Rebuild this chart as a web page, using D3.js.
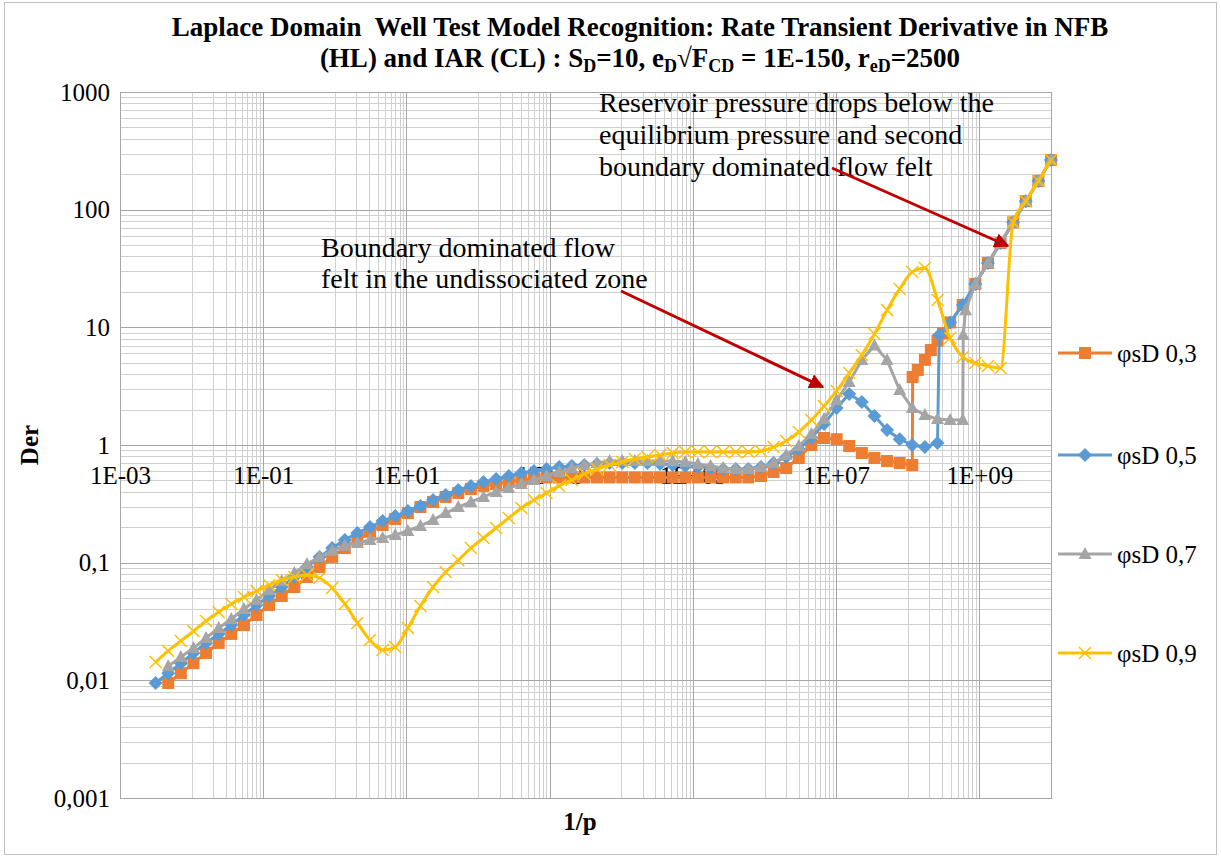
<!DOCTYPE html>
<html><head><meta charset="utf-8">
<script src="https://cdn.jsdelivr.net/npm/d3@7"></script>
<style>
body{margin:0;background:#fff;}
svg{display:block;font-family:"Liberation Serif","Times New Roman",serif;}
</style></head><body>
<svg id="chart" width="1221" height="858"></svg>
<script>
// 1/p sample grid (Laplace variable inverse)
const invP = [0.003144,0.004716,0.007074,0.01061,0.01592,0.02388,0.03581,0.05372,0.08058,0.1209,
  0.1813,0.2720,0.4079,0.6119,0.9179,1.377,2.065,3.098,4.647,6.970,
  10.46,15.68,23.52,35.29,52.93,79.39,119.1,178.6,268.0,401.9,
  602.9,904.3,1356,2035,3052,4578,6867,10300,15450,23180,
  34760,52150,78220,117300,176000,264000,396000,594000,891000,1.337e6,
  2.005e6,3.008e6,4.511e6,6.767e6,1.015e7,1.523e7,2.284e7,3.426e7,5.139e7,7.708e7,
  1.156e8,1.734e8,2.602e8,3.902e8,5.853e8,8.780e8,1.317e9,1.975e9,2.963e9,4.444e9,
  6.667e9,1e10];

// Rate transient derivative per storativity ratio, aligned with invP
const der03 = [null,0.0095,0.0115,0.0140,0.0171,0.0208,0.0248,0.0295,0.0359,0.0437,
  0.0521,0.0621,0.0755,0.0918,0.112,0.133,0.156,0.183,0.209,0.235,
  0.264,0.297,0.328,0.362,0.391,0.423,0.449,0.466,0.485,0.505,
  0.514,0.53,0.53,0.53,0.53,0.53,0.53,0.53,0.53,0.53,
  0.53,0.53,0.53,0.53,0.53,0.53,0.53,0.53,0.545,0.590,
  0.637,0.775,1.0,1.147,1.12,0.98,0.855,0.775,0.731,0.703,
  0.676,5.3,7.7,11.0,15.5,23.4,35.2,52,78,118,
  175,264];
const der05 = [0.0095,0.0115,0.0140,0.0171,0.0208,0.0248,0.0295,0.0359,0.0437,0.0521,
  0.0621,0.0755,0.0918,0.112,0.133,0.156,0.179,0.201,0.226,0.249,
  0.275,0.303,0.341,0.376,0.415,0.449,0.485,0.514,0.545,0.578,
  0.601,0.625,0.650,0.664,0.676,0.690,0.703,0.703,0.703,0.703,
  0.690,0.676,0.664,0.650,0.637,0.625,0.625,0.625,0.650,0.703,
  0.790,0.925,1.15,1.51,2.06,2.71,2.32,1.76,1.34,1.12,
  1.00,0.96,1.04,11.0,15.5,23.4,35.2,52,78,118,
  175,264];
const der07 = [null,0.0132,0.0158,0.0188,0.0229,0.0279,0.0332,0.0404,0.0482,0.0586,
  0.0699,0.0817,0.0974,0.112,0.126,0.139,0.147,0.156,0.162,0.172,
  0.186,0.205,0.231,0.264,0.297,0.328,0.362,0.399,0.432,0.467,
  0.505,0.545,0.590,0.638,0.676,0.703,0.731,0.731,0.731,0.731,
  0.731,0.731,0.717,0.690,0.663,0.637,0.625,0.625,0.650,0.703,
  0.822,0.981,1.24,1.66,2.41,3.43,5.27,7.0,5.27,2.93,
  2.06,1.80,1.66,1.63,1.63,23.4,35.2,52,78,118,
  175,264];
const der09 = [0.0143,0.0178,0.0216,0.0262,0.0319,0.0381,0.0446,0.0511,0.0574,0.0646,
  0.0713,0.0755,0.0785,0.0741,0.0610,0.0446,0.0307,0.0220,0.0181,0.0192,
  0.0279,0.0428,0.0621,0.0833,0.105,0.133,0.162,0.197,0.240,0.292,
  0.341,0.391,0.449,0.505,0.568,0.625,0.676,0.717,0.760,0.791,
  0.822,0.855,0.872,0.872,0.872,0.872,0.872,0.872,0.889,0.962,
  1.08,1.29,1.63,2.14,2.88,4.09,5.82,8.78,14.0,21.2,
  29.5,31.9,17.1,8.12,5.60,4.98,4.69,4.51,78,118,
  175,264];

// Extra samples around the sharp transitions
const step03X = [1.17e8,1.38e8,2.10e8,3.10e8];
const step03Y = [3.78,4.34,6.41,8.9];
const step05X = [2.75e8];
const step05Y = [8.6];
const step07X = [5.95e8,6.4e8];
const step07Y = [8.6,14.0];

const seriesNames = ["φsD 0,3","φsD 0,5","φsD 0,7","φsD 0,9"];
const seriesColors = ["#ED7D31","#5B9BD5","#A5A5A5","#FFC000"];

const xTickValues = [1e-3,1e-1,1e1,1e3,1e5,1e7,1e9];
const xTickLabels = ["1E-03","1E-01","1E+01","1E+03","1E+05","1E+07","1E+09"];
const yTickValues = [0.001,0.01,0.1,1,10,100,1000];
const yTickLabels = ["0,001","0,01","0,1","1","10","100","1000"];

const W = 1221, H = 858;
const L = 120, R = 1051, T = 92, B = 798;
const svg = d3.select("#chart");

svg.append("rect").attr("x",4.5).attr("y",2.5).attr("width",W-9).attr("height",H-6)
  .attr("fill","#fff").attr("stroke","#BFBFBF").attr("stroke-width",1);

const x = d3.scaleLog().domain([1e-3,1e10]).range([L,R]);
const y = d3.scaleLog().domain([1e-3,1e3]).range([B,T]);

// gridlines
const grid = svg.append("g");
const xMinor = [];
xTickValues.forEach(m => { for (let k=1;k<=9;k++) { const v = m*10*k; if (v<1e10) xMinor.push(v); } });
const yMinor = [];
[0.001,0.01,0.1,1,10,100].forEach(d => { for (let k=2;k<=9;k++) yMinor.push(d*k); });
grid.selectAll(".xm").data(xMinor).join("line")
  .attr("x1",d=>Math.round(x(d))+0.5).attr("x2",d=>Math.round(x(d))+0.5)
  .attr("y1",T).attr("y2",B).attr("stroke","#D0D0D0").attr("stroke-width",1);
grid.selectAll(".ym").data(yMinor).join("line")
  .attr("y1",d=>Math.round(y(d))+0.5).attr("y2",d=>Math.round(y(d))+0.5)
  .attr("x1",L).attr("x2",R).attr("stroke","#D0D0D0").attr("stroke-width",1);
grid.selectAll(".xM").data(xTickValues.concat([1e10])).join("line")
  .attr("x1",d=>Math.round(x(d))+0.5).attr("x2",d=>Math.round(x(d))+0.5)
  .attr("y1",T).attr("y2",B).attr("stroke","#A6A6A6").attr("stroke-width",1);
grid.selectAll(".yM").data(yTickValues).join("line")
  .attr("y1",d=>Math.round(y(d))+0.5).attr("y2",d=>Math.round(y(d))+0.5)
  .attr("x1",L).attr("x2",R).attr("stroke","#A6A6A6").attr("stroke-width",1);
svg.append("rect").attr("x",L+0.5).attr("y",T+0.5).attr("width",R-L).attr("height",B-T)
  .attr("fill","none").attr("stroke","#A6A6A6").attr("stroke-width",1);

// axes
const xAxis = d3.axisBottom(x).tickValues(xTickValues)
  .tickFormat((d,i)=>xTickLabels[i]).tickSize(0).tickPadding(21);
const gx = svg.append("g").attr("transform",`translate(0,${y(1)})`).call(xAxis);
gx.select(".domain").remove();
gx.selectAll("text").attr("font-size",25).attr("font-family","Liberation Serif").attr("fill","#000");

const yAxis = d3.axisLeft(y).tickValues(yTickValues)
  .tickFormat((d,i)=>yTickLabels[i]).tickSize(0).tickPadding(10);
const gy = svg.append("g").attr("transform",`translate(${L},0)`).call(yAxis);
gy.select(".domain").remove();
gy.selectAll("text").attr("font-size",25).attr("font-family","Liberation Serif").attr("fill","#000");

// markers
function marker(sel, kind, color) {
  if (kind === 0) sel.append("rect").attr("x",-6).attr("y",-6).attr("width",12).attr("height",12).attr("fill",color);
  else if (kind === 1) sel.append("path").attr("d","M0,-7L7,0L0,7L-7,0Z").attr("fill",color);
  else if (kind === 2) sel.append("path").attr("d","M0,-7L6.5,5L-6.5,5Z").attr("fill",color);
  else sel.append("path").attr("d","M-6,-6L6,6M6,-6L-6,6").attr("stroke",color).attr("stroke-width",1.5).attr("fill","none");
}

function build(vals, sx, sy) {
  const pts = [];
  vals.forEach((v,i) => { if (v != null) pts.push([invP[i], v]); });
  (sx||[]).forEach((v,i) => pts.push([v, sy[i]]));
  pts.sort((a,b)=>a[0]-b[0]);
  return pts;
}
const series = [
  build(der03, step03X, step03Y),
  build(der05, step05X, step05Y),
  build(der07, step07X, step07Y),
  build(der09)
];

const plot = svg.append("g");
series.forEach((pts, si) => {
  const g = plot.append("g");
  const line = d3.line().x(d=>x(d[0])).y(d=>y(d[1]))
    .curve(si === 3 ? d3.curveMonotoneX : d3.curveLinear);
  g.append("path").attr("d", line(pts)).attr("fill","none")
    .attr("stroke", seriesColors[si]).attr("stroke-width",3).attr("stroke-linejoin","round");
  g.selectAll("g.m").data(pts).join("g").attr("class","m")
    .attr("transform", d=>`translate(${x(d[0])},${y(d[1])})`)
    .each(function(){ marker(d3.select(this), si, seriesColors[si]); });
});

// legend
const legY = [353,455,554,653];
seriesNames.forEach((n,i) => {
  const g = svg.append("g").attr("transform",`translate(1058,${legY[i]})`);
  g.append("line").attr("x1",0).attr("x2",54).attr("stroke",seriesColors[i]).attr("stroke-width",3);
  const m = g.append("g").attr("transform","translate(27,0)");
  marker(m, i, seriesColors[i]);
  g.append("text").attr("x",59).attr("y",9).attr("font-size",25).text(n);
});

// title
const title = svg.append("text").attr("text-anchor","middle").attr("font-weight","bold")
  .attr("font-size",27).style("white-space","pre");
title.append("tspan").attr("x",640).attr("y",36).text("Laplace Domain  Well Test Model Recognition: Rate Transient Derivative in NFB");
const t2 = title.append("tspan").attr("x",640).attr("y",67);
t2.text("(HL) and IAR (CL) : S");
title.append("tspan").attr("font-size",18).attr("dy",5).text("D");
title.append("tspan").attr("dy",-5).text("=10, e");
title.append("tspan").attr("font-size",18).attr("dy",5).text("D");
title.append("tspan").attr("dy",-5).text("√F");
title.append("tspan").attr("font-size",18).attr("dy",5).text("CD");
title.append("tspan").attr("dy",-5).text(" = 1E-150, r");
title.append("tspan").attr("font-size",18).attr("dy",5).text("eD");
title.append("tspan").attr("dy",-5).text("=2500");

// axis titles
svg.append("text").attr("transform","translate(38,445) rotate(-90)").attr("text-anchor","middle")
  .attr("font-weight","bold").attr("font-size",25).text("Der");
svg.append("text").attr("x",580).attr("y",830).attr("text-anchor","middle")
  .attr("font-weight","bold").attr("font-size",25).text("1/p");

// annotations
const a1 = svg.append("text").attr("font-size",28);
a1.append("tspan").attr("x",599).attr("y",112).text("Reservoir pressure drops below the");
a1.append("tspan").attr("x",599).attr("y",144).text("equilibrium pressure and second");
a1.append("tspan").attr("x",599).attr("y",176).text("boundary dominated flow felt");
const a2 = svg.append("text").attr("font-size",28);
a2.append("tspan").attr("x",321).attr("y",257).text("Boundary dominated flow");
a2.append("tspan").attr("x",321).attr("y",288).text("felt in the undissociated zone");

svg.append("defs").append("marker").attr("id","ah").attr("viewBox","0 0 10 10")
  .attr("refX",9).attr("refY",5).attr("markerWidth",5).attr("markerHeight",5)
  .attr("orient","auto").append("path").attr("d","M0,0L10,5L0,10Z").attr("fill","#C00000");
svg.append("line").attr("x1",621).attr("y1",291).attr("x2",823).attr("y2",387)
  .attr("stroke","#C00000").attr("stroke-width",3).attr("marker-end","url(#ah)");
svg.append("line").attr("x1",832).attr("y1",168).attr("x2",1008).attr("y2",246)
  .attr("stroke","#C00000").attr("stroke-width",3).attr("marker-end","url(#ah)");
</script>
</body></html>
